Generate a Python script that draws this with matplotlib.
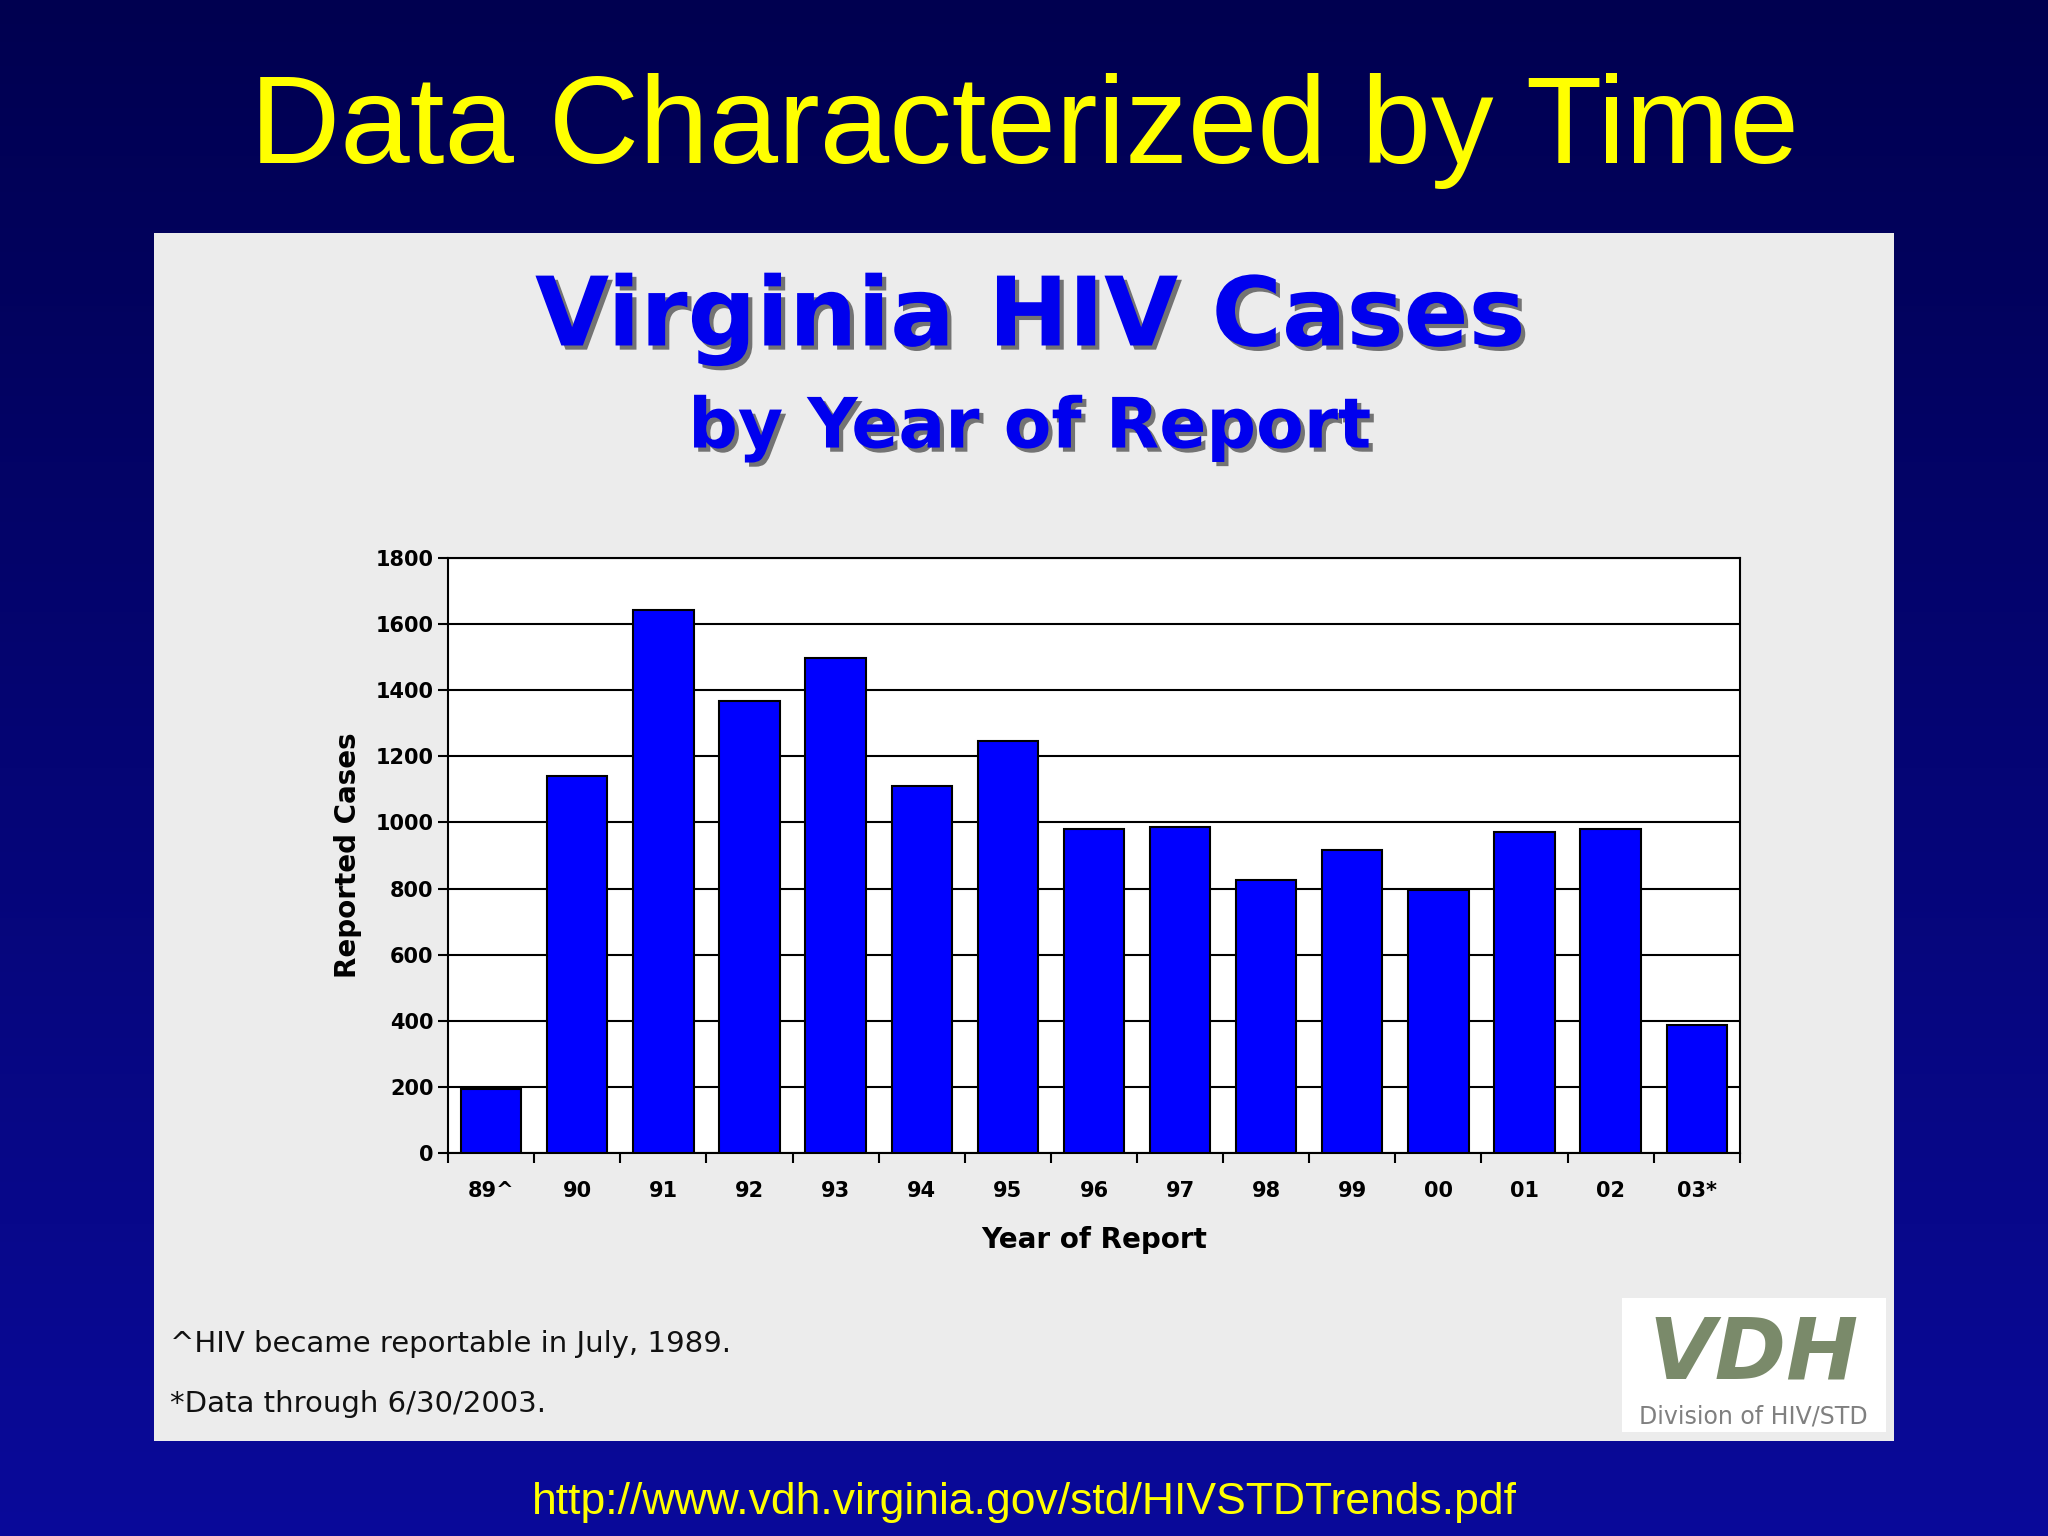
import matplotlib
matplotlib.use("Agg")
import matplotlib.pyplot as plt
import numpy as np
from matplotlib.patches import Rectangle
import matplotlib.patheffects as pe
from matplotlib.colors import LinearSegmentedColormap

years = ["89^", "90", "91", "92", "93", "94", "95", "96", "97", "98", "99", "00", "01", "02", "03*"]
cases = [195, 1141, 1642, 1366, 1496, 1109, 1247, 979, 987, 825, 916, 797, 971, 979, 387]
yticks = [0, 200, 400, 600, 800, 1000, 1200, 1400, 1600, 1800]

fig = plt.figure(figsize=(20.48, 15.36), dpi=100)
bg = fig.add_axes([0, 0, 1, 1], zorder=-10)
grad = np.linspace(0, 1, 256).reshape(-1, 1)
cmap = LinearSegmentedColormap.from_list("g", ["#000050", "#0a0a9a"])
bg.imshow(grad, aspect="auto", cmap=cmap, extent=[0, 1, 0, 1], origin="upper")
bg.axis("off")

fig.text(0.5, 0.915, "Data Characterized by Time", ha="center", va="center",
         color="#ffff00", fontsize=90, family="Liberation Sans")
fig.text(0.5, 0.022, "http://www.vdh.virginia.gov/std/HIVSTDTrends.pdf", ha="center", va="center",
         color="#ffff00", fontsize=32, family="Liberation Sans")

fig.patches.append(Rectangle((0.0753, 0.0621), 0.8494, 0.7865, transform=fig.transFigure,
                             facecolor="#ececec", edgecolor="none", zorder=-5))

shadow = [pe.withSimplePatchShadow(offset=(3, -3), shadow_rgbFace="#404040", alpha=0.7)]
fig.text(0.503, 0.792, "Virginia HIV Cases", ha="center", va="center", color="#0000ee",
         fontsize=69, fontweight="bold", family="DejaVu Sans", path_effects=shadow)
fig.text(0.503, 0.721, "by Year of Report", ha="center", va="center", color="#0000ee",
         fontsize=50, fontweight="bold", family="DejaVu Sans", path_effects=shadow)

ax = fig.add_axes([0.2188, 0.2491, 0.6307, 0.3878])
x = np.arange(len(years))
ax.bar(x, cases, width=0.7, color="#0000ff", edgecolor="black", linewidth=1.5, zorder=3)
ax.set_xlim(-0.5, len(years) - 0.5)
ax.set_ylim(0, 1800)
ax.set_yticks(yticks)
ax.set_yticklabels([str(v) for v in yticks], fontsize=15, fontweight="bold")
ax.set_xticks(np.arange(len(years) + 1) - 0.5, minor=False)
ax.set_xticklabels([""] * (len(years) + 1))
ax.set_xticks(x, minor=True)
ax.set_xticklabels(years, minor=True, fontsize=15, fontweight="bold")
ax.tick_params(axis="x", which="minor", length=0, pad=20)
ax.tick_params(axis="x", which="major", length=7, width=1.5)
ax.tick_params(axis="y", length=7, width=1.5)
ax.yaxis.grid(True, color="black", linewidth=1.5, zorder=0)
ax.set_axisbelow(True)
for s in ax.spines.values():
    s.set_linewidth(1.5)
ax.set_ylabel("Reported Cases", fontsize=20, fontweight="bold", labelpad=10)
ax.set_xlabel("Year of Report", fontsize=20, fontweight="bold", labelpad=18)

fig.text(0.083, 0.125, "^HIV became reportable in July, 1989.", fontsize=21, va="center", color="#111111")
fig.text(0.083, 0.086, "*Data through 6/30/2003.", fontsize=21, va="center", color="#111111")

fig.patches.append(Rectangle((0.792, 0.068), 0.129, 0.087, transform=fig.transFigure,
                             facecolor="white", edgecolor="none", zorder=1))
fig.text(0.856, 0.118, "VDH", ha="center", va="center", fontsize=62, fontweight="bold",
         style="italic", color="#7a8a6a", family="DejaVu Sans", zorder=2)
fig.text(0.856, 0.078, "Division of HIV/STD", ha="center", va="center", fontsize=17,
         color="#808080", zorder=2)

fig.savefig("out.png", dpi=100)
